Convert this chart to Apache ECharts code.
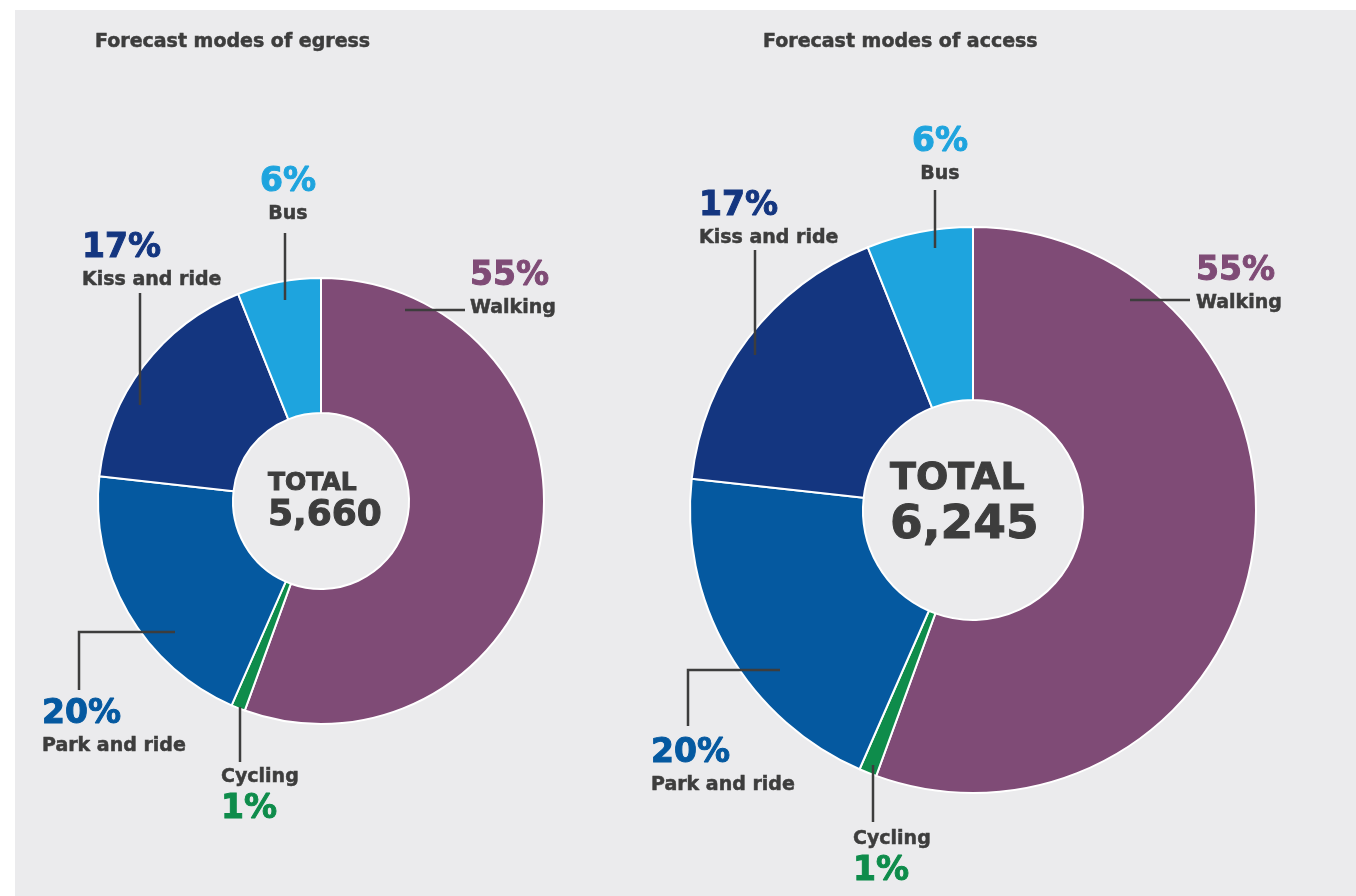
<!DOCTYPE html>
<html>
<head>
<meta charset="utf-8">
<script src="https://cdn.jsdelivr.net/npm/echarts@6/dist/echarts.min.js"></script>
<style>
  html, body { margin: 0; padding: 0; background: #ffffff; }
  #chart { position: absolute; left: 15px; top: 10px; width: 1341px; height: 886px; }
</style>
</head>
<body>
<div id="chart"></div>
<script>
// data
const modes = ['Walking', 'Cycling', 'Park and ride', 'Kiss and ride', 'Bus']
const egressShare = [55, 1, 20, 17, 6]
const accessShare = [55, 1, 20, 17, 6]
const egressTotal = '5,660'
const accessTotal = '6,245'
const chartTitles = ['Forecast modes of egress', 'Forecast modes of access']

const modeColors = ['#7f4b76', '#0e8c4b', '#0559a0', '#143680', '#1ea4de']
const textColor = '#3d3d3d'
const fontFamily = 'DejaVu Sans'

// pie geometry (px inside chart) and label anchors relative to pie centre
const pies = [
  {
    center: [306, 491], radius: [88, 223],
    labels: [
      { x: 149, y: -209, align: 'left', line: [[84, -191], [144, -191], [144, -191]] },
      { x: -100, y: 292, align: 'left', line: [[-81, 206], [-81, 261], [-81, 261]] },
      { x: -279, y: 229, align: 'left', line: [[-146, 131], [-242, 131], [-242, 189]] },
      { x: -239, y: -237, align: 'left', line: [[-181, -96], [-181, -208], [-181, -208]] },
      { x: -33, y: -303, align: 'center', line: [[-36, -201], [-36, -268], [-36, -268]] }
    ]
  },
  {
    center: [958, 500], radius: [110, 283],
    labels: [
      { x: 223, y: -223, align: 'left', line: [[157, -210], [217, -210], [217, -210]] },
      { x: -120, y: 345, align: 'left', line: [[-100, 255], [-100, 312], [-100, 312]] },
      { x: -322, y: 259, align: 'left', line: [[-193, 160], [-285, 160], [-285, 216]] },
      { x: -274, y: -288, align: 'left', line: [[-218, -155], [-218, -260], [-218, -260]] },
      { x: -33, y: -352, align: 'center', line: [[-38, -262], [-38, -320], [-38, -320]] }
    ]
  }
]

const rich = {
  n: { fontFamily, fontSize: 19, fontWeight: 'bold', color: textColor, lineHeight: 32,
       textBorderColor: textColor, textBorderWidth: 0.5 }
}
modeColors.forEach((c, i) => {
  rich['p' + i] = { fontFamily, fontSize: 33, fontWeight: 'bold', color: c, lineHeight: 32,
                    textBorderColor: c, textBorderWidth: 1 }
})

const pieData = values => modes.map((m, i) => ({
  name: m,
  value: values[i],
  itemStyle: { color: modeColors[i] }
}))

// coloured ring
const buildRing = (values, idx) => ({
  type: 'pie',
  z: 2,
  center: pies[idx].center,
  radius: pies[idx].radius,
  startAngle: 90,
  silent: true,
  itemStyle: { borderColor: '#ffffff', borderWidth: 2 },
  label: { show: false },
  labelLine: { show: false },
  data: pieData(values)
})

// transparent copy on top, carries labels so the leader lines sit over the ring
const buildLabels = (values, idx) => {
  const pie = pies[idx]
  return {
    type: 'pie',
    z: 3,
    center: pie.center,
    radius: pie.radius,
    startAngle: 90,
    silent: true,
    avoidLabelOverlap: false,
    itemStyle: { color: 'rgba(0,0,0,0)', borderWidth: 0 },
    label: {
      show: true,
      position: 'outside',
      formatter: function(p) {
        const pct = '{p' + p.dataIndex + '|' + p.value + '%}'
        const name = '{n|' + p.name + '}'
        return p.name === 'Cycling' ? name + '\n' + pct : pct + '\n' + name
      },
      rich
    },
    labelLine: {
      show: true,
      smooth: false,
      lineStyle: { color: textColor, width: 2.5 }
    },
    labelLayout: function(params) {
      const a = pie.labels[params.dataIndex]
      const cx = pie.center[0]
      const cy = pie.center[1]
      return {
        x: cx + a.x,
        y: cy + a.y,
        align: a.align,
        verticalAlign: 'middle',
        labelLinePoints: a.line.map(pt => [cx + pt[0], cy + pt[1]])
      }
    },
    data: modes.map((m, i) => ({ name: m, value: values[i] }))
  }
}

const chart = echarts.init(document.getElementById('chart'))

const headStyle = { fontFamily, fontSize: 19, fontWeight: 'bold', color: textColor,
                    textBorderColor: textColor, textBorderWidth: 0.5 }
const totalStyle = (a, b, gap) => ({
  rich: {
    a: { fontFamily, fontSize: a, fontWeight: 'bold', color: textColor, lineHeight: a + gap,
         textBorderColor: textColor, textBorderWidth: 1 },
    b: { fontFamily, fontSize: b, fontWeight: 'bold', color: textColor, lineHeight: b,
         textBorderColor: textColor, textBorderWidth: 1 }
  }
})

const option = {
  backgroundColor: '#ebebed',
  animation: false,
  title: [
    { text: chartTitles[0], left: 75, top: 18, textStyle: headStyle },
    { text: chartTitles[1], left: 743, top: 18, textStyle: headStyle },
    {
      text: '{a|TOTAL}\n{b|' + egressTotal + '}', left: 248, top: 454,
      textStyle: totalStyle(25, 36, 4)
    },
    {
      text: '{a|TOTAL}\n{b|' + accessTotal + '}', left: 870, top: 441,
      textStyle: totalStyle(38, 47, 8)
    }
  ],
  series: [
    buildRing(egressShare, 0),
    buildRing(accessShare, 1),
    buildLabels(egressShare, 0),
    buildLabels(accessShare, 1)
  ]
}

chart.setOption(option)
</script>
</body>
</html>
